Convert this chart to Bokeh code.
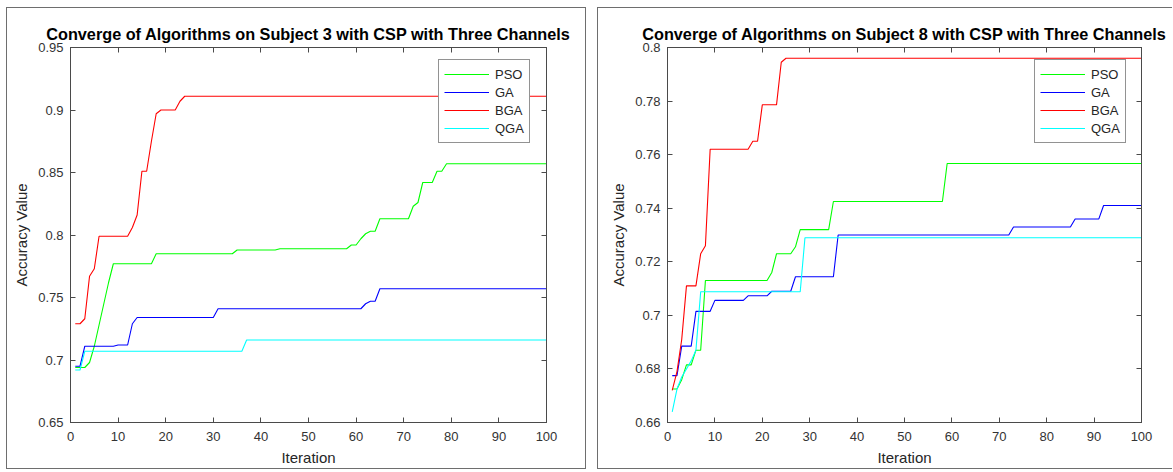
from bokeh.plotting import figure
from bokeh.layouts import row
from bokeh.models import FixedTicker, LinearAxis, Legend, LegendItem, Range1d
from bokeh.embed import file_html
from bokeh.resources import INLINE

# ---------------- data (iteration, accuracy) at change points ----------------
series_names = ["PSO", "GA", "BGA", "QGA"]
series_colors = ["#00ff00", "#0000ff", "#ff0000", "#00ffff"]

# Subject 3
s3_pso_iter = [1, 3, 4, 5, 6, 7, 8, 9, 17, 18, 34, 35, 43, 44, 58, 59, 60, 61, 62, 63, 64, 65, 71, 72, 73, 74, 76, 77, 78, 79, 100]
s3_pso_acc = [0.694, 0.694, 0.698, 0.711, 0.728, 0.745, 0.762, 0.777, 0.777, 0.785, 0.785, 0.788, 0.788, 0.789, 0.789, 0.792, 0.792, 0.797, 0.801, 0.803, 0.803, 0.813, 0.813, 0.823, 0.826, 0.842, 0.842, 0.851, 0.851, 0.857, 0.857]
s3_ga_iter = [1, 2, 3, 9, 10, 12, 13, 14, 30, 31, 61, 62, 63, 64, 65, 100]
s3_ga_acc = [0.695, 0.695, 0.711, 0.711, 0.712, 0.712, 0.729, 0.734, 0.734, 0.741, 0.741, 0.745, 0.747, 0.747, 0.757, 0.757]
s3_bga_iter = [1, 2, 3, 4, 5, 6, 12, 13, 14, 15, 16, 17, 18, 19, 22, 23, 24, 100]
s3_bga_acc = [0.729, 0.729, 0.733, 0.767, 0.773, 0.799, 0.799, 0.806, 0.816, 0.851, 0.851, 0.875, 0.897, 0.900, 0.900, 0.907, 0.911, 0.911]
s3_qga_iter = [1, 2, 3, 36, 37, 100]
s3_qga_acc = [0.692, 0.692, 0.707, 0.707, 0.716, 0.716]

# Subject 8
s8_pso_iter = [1, 2, 3, 4, 5, 6, 7, 8, 21, 22, 23, 26, 27, 28, 34, 35, 58, 59, 100]
s8_pso_acc = [0.6725, 0.6725, 0.676, 0.6815, 0.6815, 0.687, 0.687, 0.713, 0.713, 0.716, 0.723, 0.723, 0.7256, 0.732, 0.732, 0.7425, 0.7425, 0.7567, 0.7567]
s8_ga_iter = [1, 2, 3, 5, 6, 9, 10, 16, 17, 21, 22, 26, 27, 35, 36, 72, 73, 85, 86, 91, 92, 100]
s8_ga_acc = [0.6775, 0.6775, 0.6885, 0.6885, 0.7015, 0.7015, 0.7056, 0.7056, 0.7073, 0.7073, 0.709, 0.709, 0.7144, 0.7144, 0.730, 0.730, 0.733, 0.733, 0.736, 0.736, 0.741, 0.741]
s8_bga_iter = [1, 2, 3, 4, 6, 7, 8, 9, 17, 18, 19, 20, 23, 24, 25, 100]
s8_bga_acc = [0.672, 0.679, 0.691, 0.711, 0.711, 0.723, 0.726, 0.762, 0.762, 0.765, 0.765, 0.7786, 0.7786, 0.7945, 0.796, 0.796]
s8_qga_iter = [1, 2, 3, 4, 5, 6, 7, 28, 29, 100]
s8_qga_acc = [0.664, 0.6725, 0.677, 0.680, 0.683, 0.687, 0.7088, 0.7088, 0.729, 0.729]

x_ticks = [0, 10, 20, 30, 40, 50, 60, 70, 80, 90, 100]
s3_y_ticks = [0.65, 0.7, 0.75, 0.8, 0.85, 0.9, 0.95]
s3_y_labels = ["0.65", "0.7", "0.75", "0.8", "0.85", "0.9", "0.95"]
s8_y_ticks = [0.66, 0.68, 0.7, 0.72, 0.74, 0.76, 0.78, 0.8]
s8_y_labels = ["0.66", "0.68", "0.7", "0.72", "0.74", "0.76", "0.78", "0.8"]

titles = ["Converge of Algorithms on Subject 3 with CSP with Three Channels",
          "Converge of Algorithms on Subject 8 with CSP with Three Channels"]

FONT = "Liberation Sans"
AX = "#4a4a4a"
TXT = "#333333"
FRAME_H = 373
PANEL_BORDER = "1px solid #6e6e6e"


def style_axis(ax, labels_visible=True):
    ax.axis_line_color = AX
    ax.major_tick_line_color = AX
    ax.major_tick_in = 5
    ax.major_tick_out = 0
    ax.minor_tick_line_color = None
    ax.major_label_text_font = FONT
    ax.major_label_text_color = TXT
    ax.axis_label_text_font = FONT
    ax.axis_label_text_font_style = "normal"
    ax.axis_label_text_color = "#262626"
    ax.axis_label_text_font_size = "15px"
    if labels_visible:
        ax.major_label_text_font_size = "13px"
    else:
        ax.major_label_text_font_size = "0px"
        ax.major_label_standoff = 0


def make_panel(title, data, y_range, y_ticks, y_labels, frame_w, b_left, b_right, styles):
    p = figure(frame_width=frame_w, frame_height=FRAME_H,
               x_range=Range1d(0, 100), y_range=Range1d(*y_range),
               output_backend="svg", toolbar_location=None,
               min_border_left=b_left, min_border_right=b_right,
               min_border_top=39, min_border_bottom=48,
               title=title, background_fill_color="white",
               border_fill_color="white", styles=styles)
    p.title.text_font = FONT
    p.title.text_font_style = "bold"
    p.title.text_font_size = "16.25px"
    p.title.text_color = "#000000"
    p.title.align = "center"
    p.title.standoff = 9
    p.xgrid.visible = False
    p.ygrid.visible = False
    p.outline_line_color = AX
    p.outline_line_alpha = 1

    xt = FixedTicker(ticks=x_ticks)
    yt = FixedTicker(ticks=y_ticks)
    overrides = {t: l for t, l in zip(y_ticks, y_labels)}

    p.xaxis.ticker = xt
    p.yaxis.ticker = yt
    p.yaxis.major_label_overrides = overrides
    p.xaxis.axis_label = "Iteration"
    p.yaxis.axis_label = "Accuracy Value"
    style_axis(p.xaxis[0])
    style_axis(p.yaxis[0])
    p.xaxis.major_label_standoff = 9
    p.xaxis.axis_label_standoff = 5
    p.yaxis.major_label_standoff = 7
    p.yaxis.axis_label_standoff = 5

    top = LinearAxis(ticker=xt)
    right = LinearAxis(ticker=yt)
    style_axis(top, False)
    style_axis(right, False)
    p.add_layout(top, "above")
    p.add_layout(right, "right")

    items = []
    for (xs, ys), name, color in zip(data, series_names, series_colors):
        r = p.line(xs, ys, line_color=color, line_width=1.1)
        items.append(LegendItem(label=name, renderers=[r]))

    # bottom-left corner of the legend box, in pixels from the frame's bottom-left
    leg = Legend(items=items, location=(frame_w - 106, FRAME_H - 12 - 82))
    leg.margin = 0
    leg.padding = 5
    leg.spacing = 0
    leg.glyph_width = 45
    leg.glyph_height = 18
    leg.label_height = 18
    leg.label_standoff = 6
    leg.label_text_font = FONT
    leg.label_text_font_size = "13px"
    leg.label_text_color = "#262626"
    leg.border_line_color = "#262626"
    leg.border_line_width = 1
    leg.background_fill_color = "white"
    leg.background_fill_alpha = 1
    p.add_layout(leg, "center")
    return p


p1 = make_panel(titles[0],
                [(s3_pso_iter, s3_pso_acc), (s3_ga_iter, s3_ga_acc),
                 (s3_bga_iter, s3_bga_acc), (s3_qga_iter, s3_qga_acc)],
                (0.65, 0.95), s3_y_ticks, s3_y_labels, 474, 63, 41,
                {"border": PANEL_BORDER})
p2 = make_panel(titles[1],
                [(s8_pso_iter, s8_pso_acc), (s8_ga_iter, s8_ga_acc),
                 (s8_bga_iter, s8_bga_acc), (s8_qga_iter, s8_qga_acc)],
                (0.66, 0.80), s8_y_ticks, s8_y_labels, 473, 69, 32,
                {"border-top": PANEL_BORDER, "border-left": PANEL_BORDER,
                 "border-bottom": PANEL_BORDER})

layout = row(p1, p2, spacing=11, margin=(7, 0, 0, 6))

open("out.html", "w").write(file_html(layout, INLINE))
